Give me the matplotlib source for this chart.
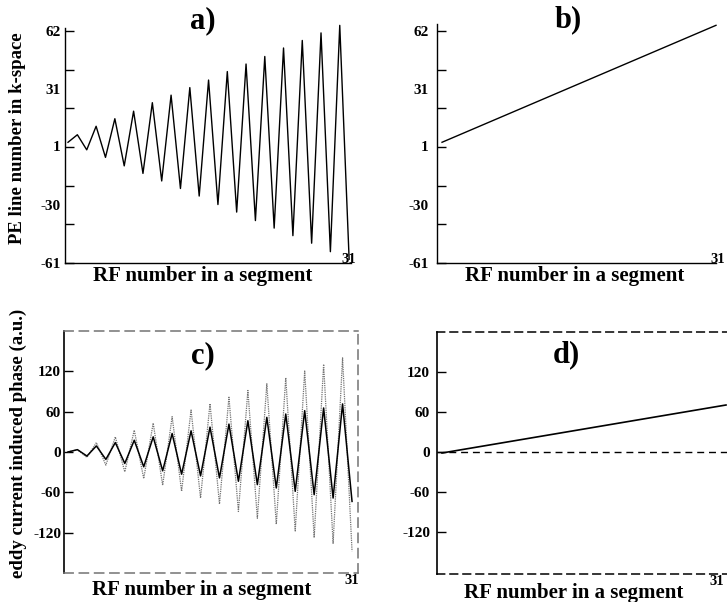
import matplotlib
matplotlib.use("Agg")
import matplotlib.pyplot as plt
from matplotlib.transforms import ScaledTranslation

plt.rcParams['font.family'] = ['Liberation Serif', 'DejaVu Serif']
plt.rcParams['font.weight'] = 'bold'

# ---------------- data ----------------
rf_numbers = list(range(1, 32))

# a) PE line number in k-space per RF (zigzag ordering)
pe_line_a = [3, 7, -1, 11.5, -5, 15.5, -9.5, 19.5, -13.5, 24, -17.5, 28, -21.5, 32,
             -25.5, 36, -30, 40.5, -34, 44.5, -38.5, 48.5, -42.5, 53, -46.5, 57,
             -50.5, 61, -55, 65, -59]

# b) reordered (monotonic) PE line
rf_b = [1, 31]
pe_line_b = [3, 65]

# c) eddy current induced phase: solid and dotted series
phase_c_solid = [0, 3.5, -6, 9, -11, 14, -17, 17.5, -22, 22.5, -28, 27.5, -33, 31.5,
                 -35.5, 37, -38.5, 41.5, -43.5, 46.5, -48.5, 51.5, -53.5, 56.5,
                 -58.5, 61.5, -63.5, 65.5, -68.5, 71.5, -73.5]
phase_c_dotted = [0, 3.5, -8, 14, -19.5, 22.5, -29.5, 32.5, -39.5, 43, -49.5, 52.5,
                  -58.5, 62.5, -68.5, 72, -77.5, 81.5, -88.5, 91.5, -98.5, 101.5,
                  -107.5, 110.5, -117.5, 120.5, -127.5, 130.5, -136, 140, -147.5]

# d) phase after reordering
rf_d = [1, 31]
phase_d = [-1.5, 70.5]

pe_tick_values = [62, 31, 1, -30, -61]
pe_tick_labels = ['62', '31', '1', '-30', '-61']
pe_tick_marks = [62, 41.5, 21, 0.5, -20, -40.5, -61]
phase_ticks = [120, 60, 0, -60, -120]
phase_tick_labels = ['120', '60', '0', '-60', '-120']
x_end_tick = [31]
x_end_label = ['31']

# ---------------- layout ----------------
W, H = 727, 602
fig = plt.figure(figsize=(W / 100, H / 100), dpi=100)


def add_ax(left, top, right, bottom):
    return fig.add_axes([left / W, 1 - bottom / H, (right - left) / W, (bottom - top) / H])


def pe_axes(ax, ypad):
    ax.yaxis.remove_overlapping_locs = False
    ax.set_yticks(pe_tick_marks)
    ax.set_yticklabels([])
    ax.set_yticks(pe_tick_values, minor=True)
    ax.set_yticklabels(pe_tick_labels, minor=True)
    ax.tick_params(axis='y', which='major', direction='in', length=6.5, width=1.0)
    ax.tick_params(axis='y', which='minor', length=0, pad=ypad, labelsize=11)
    for s in ['top', 'right']:
        ax.spines[s].set_visible(False)
    for s in ['left', 'bottom']:
        ax.spines[s].set_linewidth(1.0)


def x_end(ax, pad, dx=0, dy=0):
    ax.set_xticks(x_end_tick)
    ax.set_xticklabels(x_end_label)
    ax.tick_params(axis='x', length=0, pad=pad, labelsize=10.5)
    if dx or dy:
        for lab in ax.get_xticklabels():
            lab.set_transform(lab.get_transform() + ScaledTranslation(dx / 100, dy / 100, fig.dpi_scale_trans))


# ----- a -----
ax_a = add_ax(65, 28, 351, 263)
ax_a.plot(rf_numbers, pe_line_a, color='black', lw=1.0, clip_on=False)
ax_a.set_xlim(0.68, 31.2)
ax_a.set_ylim(-61, 63.6)
pe_axes(ax_a, 3)
x_end(ax_a, -7)

# ----- b -----
ax_b = add_ax(437, 24, 716, 263)
ax_b.plot(rf_b, pe_line_b, color='black', lw=1.0, clip_on=False)
ax_b.set_xlim(0.45, 31)
ax_b.set_ylim(-61, 65.7)
pe_axes(ax_b, 6)
x_end(ax_b, -7, dx=2)


def phase_axes(ax, ypad, dash_color, dash):
    ax.set_yticks(phase_ticks)
    ax.set_yticklabels(phase_tick_labels)
    ax.tick_params(axis='y', direction='in', length=6.5, width=1.0, pad=ypad, labelsize=11)
    ax.spines['left'].set_linewidth(1.2)
    for s in ['top', 'right', 'bottom']:
        ax.spines[s].set_linestyle(dash)
        ax.spines[s].set_color(dash_color)
        ax.spines[s].set_linewidth(1.1)


# ----- c -----
ax_c = add_ax(64, 331, 358, 573)
ax_c.plot(rf_numbers, phase_c_dotted, color='0.45', lw=0.9, ls=(0, (1, 0.8)))
ax_c.plot(rf_numbers, phase_c_solid, color='black', lw=1.1)
ax_c.set_xlim(0.58, 31.63)
ax_c.set_ylim(-180, 180)
phase_axes(ax_c, 2, '0.45', (0, (6, 4)))
x_end(ax_c, 1)

# ----- d -----
ax_d = add_ax(437, 332, 735, 574)
ax_d.plot(rf_d, phase_d, color='black', lw=1.2, clip_on=False)
ax_d.axhline(0, color='black', lw=1.0, ls=(0, (5, 3.5)))
ax_d.set_xlim(0.47, 31.95)
ax_d.set_ylim(-183, 180)
phase_axes(ax_d, 5, 'black', (0, (5, 3.5)))
ax_d.spines['right'].set_visible(False)
x_end(ax_d, 1, dx=-9)

# ----- labels & panel titles -----
lab_kw = dict(fontsize=15, fontweight='bold', ha='center', va='center')
fig.text(203 / W, 1 - 276 / H, 'RF number in a segment', **lab_kw)
fig.text(575 / W, 1 - 276 / H, 'RF number in a segment', **lab_kw)
fig.text(202 / W, 1 - 590 / H, 'RF number in a segment', **lab_kw)
fig.text(574 / W, 1 - 593 / H, 'RF number in a segment', **lab_kw)

ylab_kw = dict(fontsize=13.5, fontweight='bold', ha='center', va='center', rotation=90)
fig.text(18 / W, 1 - 138 / H, 'PE line number in k-space', **ylab_kw)
fig.text(18 / W, 1 - 443 / H, 'eddy current induced phase (a.u.)', **ylab_kw)

t_kw = dict(fontsize=22, fontweight='bold', ha='center', va='center')
fig.text(203 / W, 1 - 21 / H, 'a)', **t_kw)
fig.text(568 / W, 1 - 20 / H, 'b)', **t_kw)
fig.text(203 / W, 1 - 356 / H, 'c)', **t_kw)
fig.text(566 / W, 1 - 355 / H, 'd)', **t_kw)

fig.savefig('out.png', dpi=100)
